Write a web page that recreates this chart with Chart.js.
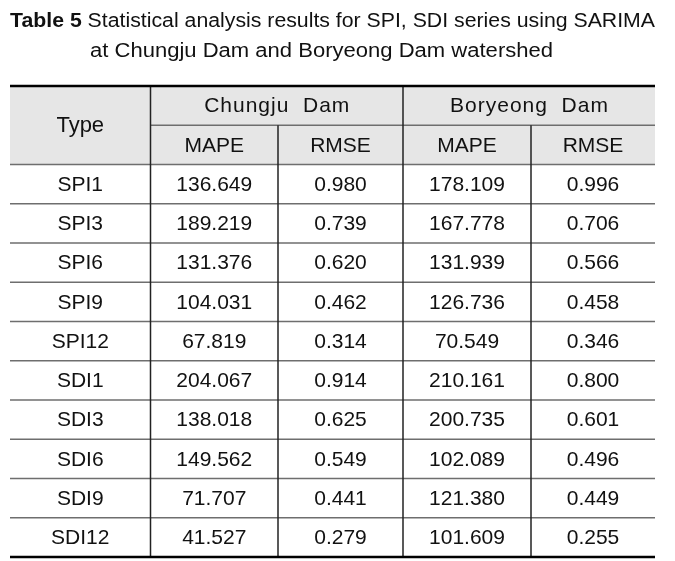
<!DOCTYPE html>
<html>
<head>
<meta charset="utf-8">
<script src="https://cdn.jsdelivr.net/npm/chart.js@4.4.1/dist/chart.umd.min.js"></script>
<style>
  html, body { margin: 0; padding: 0; background: #ffffff; }
  #c { display: block; }
</style>
</head>
<body>
<canvas id="c" width="675" height="561"></canvas>
<script>
// ---- Data ----
const titleLabel = 'Table 5';
const titleLine1 = 'Statistical analysis results for SPI, SDI series using SARIMA';
const titleLine2 = 'at Chungju Dam and Boryeong Dam watershed';
const typeHeader = 'Type';
const groups = ['Chungju  Dam', 'Boryeong  Dam'];
const metrics = ['MAPE', 'RMSE', 'MAPE', 'RMSE'];
const types = ['SPI1', 'SPI3', 'SPI6', 'SPI9', 'SPI12', 'SDI1', 'SDI3', 'SDI6', 'SDI9', 'SDI12'];
const chungjuMAPE = [136.649, 189.219, 131.376, 104.031, 67.819, 204.067, 138.018, 149.562, 71.707, 41.527];
const chungjuRMSE = [0.980, 0.739, 0.620, 0.462, 0.314, 0.914, 0.625, 0.549, 0.441, 0.279];
const boryeongMAPE = [178.109, 167.778, 131.939, 126.736, 70.549, 210.161, 200.735, 102.089, 121.380, 101.609];
const boryeongRMSE = [0.996, 0.706, 0.566, 0.458, 0.346, 0.800, 0.601, 0.496, 0.449, 0.255];

const rowKeys = ['header1', 'header2'].concat(types);
const valueColumns = [chungjuMAPE, chungjuRMSE, boryeongMAPE, boryeongRMSE];

const tablePlugin = {
  id: 'tablePlugin',
  afterDraw(chart, args, opts) {
    const ctx = chart.ctx;
    const xs = chart.scales.x;
    const ys = chart.scales.y;
    const edges = [0];
    opts.colWidths.forEach(w => edges.push(edges[edges.length - 1] + w));
    const ex = edges.map(v => xs.getPixelForValue(v));
    const band = (i) => {
      const c = ys.getPixelForValue(i);
      const h = (ys.getPixelForValue(1) - ys.getPixelForValue(0));
      return [c - h / 2, c + h / 2, c];
    };
    ctx.save();
    const hTop = band(0)[0], hBot = band(1)[1];
    ctx.fillStyle = opts.headerBg;
    ctx.fillRect(ex[0], hTop, ex[ex.length - 1] - ex[0], hBot - hTop);

    ctx.strokeStyle = opts.rowLine;
    ctx.lineWidth = 1.5;
    const mid = band(0)[1];
    ctx.beginPath(); ctx.moveTo(ex[1], mid); ctx.lineTo(ex[5], mid); ctx.stroke();
    for (let r = 1; r < rowKeys.length - 1; r++) {
      const y = band(r)[1];
      ctx.beginPath(); ctx.moveTo(ex[0], y); ctx.lineTo(ex[5], y); ctx.stroke();
    }
    ctx.strokeStyle = opts.colLine;
    ctx.lineWidth = 1.5;
    const bottom = band(rowKeys.length - 1)[1];
    [[ex[1], hTop], [ex[2], mid], [ex[3], hTop], [ex[4], mid]].forEach(([x, t]) => {
      ctx.beginPath(); ctx.moveTo(x, t); ctx.lineTo(x, bottom); ctx.stroke();
    });
    ctx.strokeStyle = '#000';
    ctx.lineWidth = 2.5;
    ctx.beginPath(); ctx.moveTo(ex[0], hTop); ctx.lineTo(ex[5], hTop); ctx.stroke();
    ctx.beginPath(); ctx.moveTo(ex[0], bottom); ctx.lineTo(ex[5], bottom); ctx.stroke();

    ctx.fillStyle = opts.textColor;
    ctx.textAlign = 'center';
    ctx.textBaseline = 'middle';
    const cx = (i) => (ex[i] + ex[i + 1]) / 2;
    const dy = opts.textDy;
    ctx.font = opts.typeFont;
    ctx.fillText(typeHeader, cx(0), mid + dy);
    ctx.font = opts.cellFont;
    ctx.letterSpacing = opts.groupSpacing;
    ctx.fillText(groups[0], (ex[1] + ex[3]) / 2 + 0.5, band(0)[2] + dy);
    ctx.fillText(groups[1], (ex[3] + ex[5]) / 2 + 0.5, band(0)[2] + dy);
    ctx.letterSpacing = '0px';
    metrics.forEach((m, i) => ctx.fillText(m, cx(i + 1), band(1)[2] + dy));
    types.forEach((t, r) => {
      const yc = band(r + 2)[2] + dy;
      ctx.fillText(t, cx(0), yc);
      valueColumns.forEach((col, c) => ctx.fillText(col[r].toFixed(3), cx(c + 1), yc));
    });

    // title
    ctx.textAlign = 'left';
    ctx.textBaseline = 'alphabetic';
    ctx.font = opts.titleBold;
    const wB = ctx.measureText(titleLabel + ' ').width;
    ctx.font = opts.titleFont;
    const w1 = ctx.measureText(titleLine1).width;
    const sx = (ex[5] - ex[0]) / (wB + w1);
    ctx.save();
    ctx.translate(ex[0], opts.titleY1);
    ctx.scale(sx, 1);
    ctx.font = opts.titleBold;
    ctx.fillText(titleLabel + ' ', 0, 0);
    ctx.font = opts.titleFont;
    ctx.fillText(titleLine1, wB, 0);
    ctx.restore();
    const w2 = ctx.measureText(titleLine2).width;
    const sx2 = (opts.titleX2End - opts.titleX2) / w2;
    ctx.save();
    ctx.translate(opts.titleX2, opts.titleY2);
    ctx.scale(sx2, 1);
    ctx.fillText(titleLine2, 0, 0);
    ctx.restore();
    ctx.restore();
  }
};

new Chart(document.getElementById('c'), {
  type: 'bar',
  data: { labels: rowKeys, datasets: [] },
  options: {
    indexAxis: 'y',
    responsive: false,
    animation: false,
    layout: { padding: { left: 10, right: 20, top: 86, bottom: 4 } },
    scales: {
      x: { type: 'linear', min: 0, max: 645, display: false },
      y: { type: 'category', labels: rowKeys, offset: true, display: false }
    },
    plugins: {
      legend: { display: false },
      tooltip: { enabled: false },
      tablePlugin: {
        colWidths: [140.5, 127.5, 125, 128, 124],
        headerBg: '#e6e6e6',
        rowLine: '#6e6e6e',
        colLine: '#222222',
        textColor: '#111111',
        cellFont: '21px "Liberation Sans", Arial, sans-serif',
        typeFont: '22px "Liberation Sans", Arial, sans-serif',
        groupSpacing: '1px',
        titleBold: 'bold 20px "Liberation Sans", sans-serif',
        titleFont: '20px "Liberation Sans", sans-serif',
        titleY1: 27,
        titleY2: 57,
        titleX2: 90,
        titleX2End: 553,
        textDy: 1
      }
    }
  },
  plugins: [tablePlugin]
});
</script>
</body>
</html>
